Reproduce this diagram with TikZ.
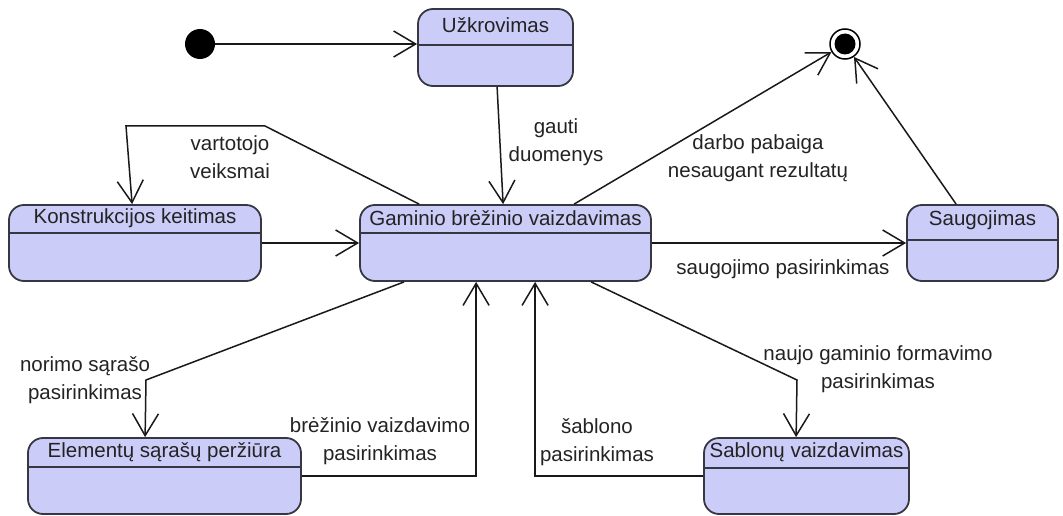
\documentclass[tikz,border=0pt]{standalone}
\usepackage{fontspec}
\setmainfont{Liberation Sans}
\usetikzlibrary{calc,positioning,arrows.meta}
\definecolor{statefill}{RGB}{204,204,248}
\definecolor{stateline}{RGB}{55,55,65}
\definecolor{textgray}{RGB}{35,35,35}
\tikzset{
  statebox/.style={draw=stateline, fill=statefill, line width=1.8pt, rounded corners=15pt, inner sep=0pt},
  divider/.style={draw=stateline, line width=1.8pt},
  statetitle/.style={text=textgray, inner sep=0pt, font=\fontsize{20.5}{24}\selectfont},
  lbl/.style={text=textgray, inner sep=0pt, align=center, font=\fontsize{20.5}{28.5}\selectfont},
  trans/.style={draw=black!90, line width=1.5pt, -{Straight Barb[length=22pt,width=26pt,line width=1.5pt]}},
  initstate/.style={circle, fill=black, minimum size=30pt, inner sep=0pt},
  finalstate/.style={circle, draw=black, fill=white, line width=1.5pt, minimum size=30pt, inner sep=0pt},
}
\begin{document}
\begin{tikzpicture}[x=1pt,y=-1pt]
\useasboundingbox (0,0) rectangle (1063,516);

% states
\node[statebox, minimum width=155pt, minimum height=77pt] (uzkrov) at (495.5,47.5) {};
\node[statebox, minimum width=252pt, minimum height=76pt] (konstr) at (135,243) {};
\node[statebox, minimum width=291pt, minimum height=76pt] (gaminio) at (505.5,243) {};
\node[statebox, minimum width=151pt, minimum height=76pt] (saug) at (982.5,243) {};
\node[statebox, minimum width=273pt, minimum height=76pt] (elem) at (164.5,476) {};
\node[statebox, minimum width=205pt, minimum height=76pt] (sablon) at (806.5,476) {};

\draw[divider] ($(uzkrov.north west)+(0,37)$) -- ($(uzkrov.north east)+(0,37)$);
\draw[divider] ($(konstr.north west)+(0,29)$) -- ($(konstr.north east)+(0,29)$);
\draw[divider] ($(gaminio.north west)+(0,29)$) -- ($(gaminio.north east)+(0,29)$);
\draw[divider] ($(saug.north west)+(0,36)$) -- ($(saug.north east)+(0,36)$);
\draw[divider] ($(elem.north west)+(0,30)$) -- ($(elem.north east)+(0,30)$);
\draw[divider] ($(sablon.north west)+(0,31)$) -- ($(sablon.north east)+(0,31)$);

\node[statetitle] (uzkrov-t) at ($(uzkrov.north)+(0,17)$) {Užkrovimas};
\node[statetitle] (konstr-t) at ($(konstr.north)+(0,14)$) {Konstrukcijos keitimas};
\node[statetitle] (gaminio-t) at ($(gaminio.north)+(0,14)$) {Gaminio brėžinio vaizdavimas};
\node[statetitle] (saug-t) at ($(saug.north)+(0,16)$) {Saugojimas};
\node[statetitle] (elem-t) at ($(elem.north)+(0,15)$) {Elementų sąrašų peržiūra};
\node[statetitle] (sablon-t) at ($(sablon.north)+(0,15)$) {Sablonų vaizdavimas};

% pseudo states
\node[initstate] (start) at (200,44) {};
\node[finalstate] (end) at (845,44) {};
\node[circle, fill=black, minimum size=21pt, inner sep=0pt] (end-dot) at (end) {};

% bends
\coordinate (b-vart1) at (265,126);
\coordinate (b-vart2) at (126,126);
\coordinate (b-norimo) at (146,380);
\coordinate (b-naujo) at (797,380);

% transitions
\draw[trans] (start) -- (start -| uzkrov.west);
\draw[trans] ($(uzkrov.south west)+(80,0)$) -- ($(gaminio.north west)+(144,0)$);
\draw[trans] ($(gaminio.north west)+(60,0)$) -- (b-vart1) -- (b-vart2) -- ($(konstr.north west)+(124,0)$);
\draw[trans] (konstr.east) -- (gaminio.west);
\draw[trans] ($(gaminio.north west)+(215,0)$) -- (end);
\draw[trans] ($(saug.north west)+(50,0)$) -- (end);
\draw[trans] (gaminio.east) -- (saug.west);
\draw[trans] ($(gaminio.south west)+(45,0)$) -- (b-norimo) -- ($(elem.north west)+(118,0)$);
\draw[trans] (elem.east) -| ($(gaminio.south west)+(117,0)$);
\draw[trans] (sablon.west) -| ($(gaminio.south west)+(176,0)$);
\draw[trans] ($(gaminio.south west)+(232,0)$) -- (b-naujo) -- ($(sablon.north west)+(93,0)$);

% labels
\node[lbl] (l-vart) at (230,157) {vartotojo\\veiksmai};
\node[lbl] (l-gauti) at (556,142) {gauti\\duomenys};
\node[lbl] (l-darbo) at (758,158) {darbo pabaiga\\nesaugant rezultatų};
\node[lbl] (l-saug) at (783,269) {saugojimo pasirinkimas};
\node[lbl] (l-norimo) at (85,380) {norimo sąrašo\\pasirinkimas};
\node[lbl] (l-brez) at (380,441) {brėžinio vaizdavimo\\pasirinkimas};
\node[lbl] (l-naujo) at (878,369) {naujo gaminio formavimo\\pasirinkimas};
\node[lbl] (l-sabl) at (597,442) {šablono\\pasirinkimas};
\end{tikzpicture}
\end{document}
